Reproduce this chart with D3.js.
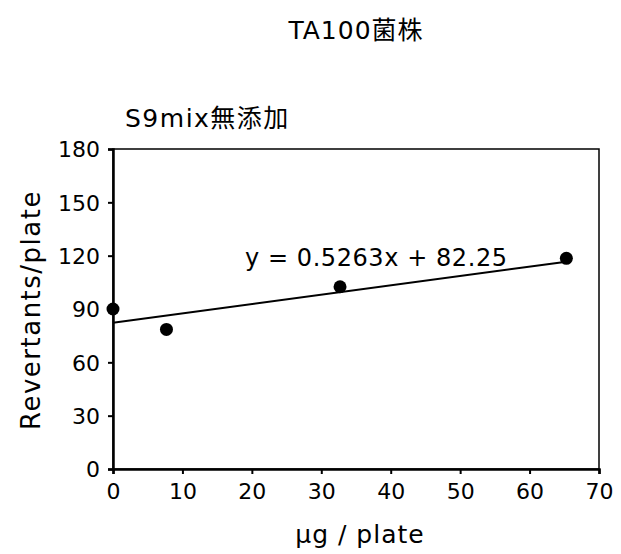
<!DOCTYPE html>
<html>
<head>
<meta charset="utf-8">
<title>TA100菌株</title>
<script src="https://cdn.jsdelivr.net/npm/d3@7/dist/d3.min.js"></script>
<style>
  body { margin: 0; background: #fff; }
  text { font-family: "DejaVu Sans", "Noto Sans CJK JP", sans-serif; fill: #000; }
</style>
</head>
<body>
<div id="chart"></div>
<script>
// doses (µg/plate) and revertant counts
var doses = [0, 7.7, 32.7, 65.3];
var revertants = [90, 78.5, 102.5, 118.5];
var xTicks = [0, 10, 20, 30, 40, 50, 60, 70];
var yTicks = [0, 30, 60, 90, 120, 150, 180];
var slope = 0.5263, intercept = 82.25;

var width = 621, height = 554;
var plotL = 113, plotR = 599, plotT = 149, plotB = 469;

var svg = d3.select("#chart").append("svg")
    .attr("width", width)
    .attr("height", height);

var x = d3.scaleLinear().domain([0, 70]).range([plotL, plotR]);
var y = d3.scaleLinear().domain([0, 180]).range([plotB, plotT]);

// frame
svg.append("rect")
   .attr("x", plotL).attr("y", plotT)
   .attr("width", plotR - plotL).attr("height", plotB - plotT)
   .attr("fill", "none").attr("stroke", "#000").attr("stroke-width", 1.5);

var xAxis = svg.append("g")
   .attr("transform", "translate(0," + plotB + ")")
   .call(d3.axisBottom(x).tickValues(xTicks).tickSize(5).tickPadding(9));
var yAxis = svg.append("g")
   .attr("transform", "translate(" + plotL + ",0)")
   .call(d3.axisLeft(y).tickValues(yTicks).tickSize(5).tickPadding(8));

[xAxis, yAxis].forEach(function(g) {
  g.select(".domain").attr("stroke-width", 2.5);
  g.selectAll(".tick line").attr("stroke-width", 2);
  g.selectAll("text").style("font-size", "22px").attr("fill", "#000");
});
yAxis.selectAll("text").attr("dy", "0.36em");

// trend line
var xEnd = d3.max(doses);
svg.append("line")
   .attr("x1", x(0)).attr("y1", y(intercept))
   .attr("x2", x(xEnd)).attr("y2", y(slope * xEnd + intercept))
   .attr("stroke", "#000").attr("stroke-width", 2);

// data points
svg.selectAll("circle.pt")
   .data(doses)
   .enter().append("circle")
   .attr("class", "pt")
   .attr("cx", function(d) { return x(d); })
   .attr("cy", function(d, i) { return y(revertants[i]); })
   .attr("r", 6.5)
   .attr("fill", "#000");

svg.append("text")
   .attr("x", 245).attr("y", 266)
   .style("font-size", "24px")
   .attr("textLength", 262)
   .text("y = 0.5263x + 82.25");

// titles
svg.append("text")
   .attr("x", 356).attr("y", 39)
   .attr("text-anchor", "middle")
   .style("font-size", "25px")
   .style("letter-spacing", "1px")
   .text("TA100菌株");

svg.append("text")
   .attr("x", 125).attr("y", 127)
   .style("font-size", "25px")
   .style("letter-spacing", "1.5px")
   .text("S9mix無添加");

svg.append("text")
   .attr("x", 360).attr("y", 543)
   .attr("text-anchor", "middle")
   .style("font-size", "25px")
   .style("letter-spacing", "1px")
   .text("µg / plate");

svg.append("text")
   .attr("transform", "translate(40,310) rotate(-90)")
   .attr("text-anchor", "middle")
   .style("font-size", "26px")
   .style("letter-spacing", "1.5px")
   .text("Revertants/plate");
</script>
</body>
</html>
